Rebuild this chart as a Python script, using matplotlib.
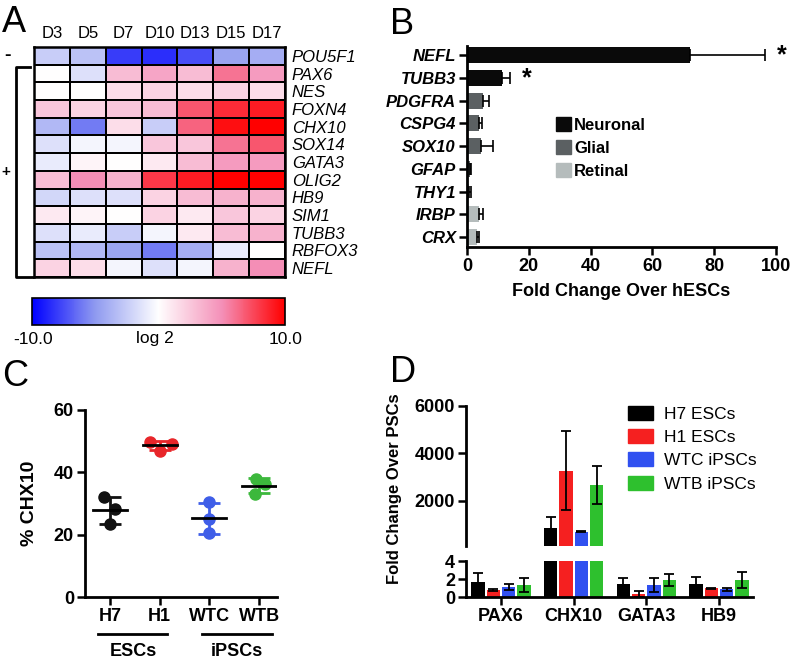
import numpy as np
import matplotlib
matplotlib.use("Agg")
from matplotlib import pyplot as plt
from matplotlib.colors import LinearSegmentedColormap
from matplotlib.patches import Patch
from matplotlib.cm import ScalarMappable
from matplotlib.colors import Normalize

plt.rcParams['font.family'] = ['Liberation Sans', 'DejaVu Sans']

# ---- panel A data: log2 expression per day
days = ['D3', 'D5', 'D7', 'D10', 'D13', 'D15', 'D17']
genes_a = ['POU5F1', 'PAX6', 'NES', 'FOXN4', 'CHX10', 'SOX14', 'GATA3',
           'OLIG2', 'HB9', 'SIM1', 'TUBB3', 'RBFOX3', 'NEFL']
heat = [
    [-2.5, -3.0, -8.0, -8.5, -7.5, -4.5, -4.0],
    [0.0, -1.5, 3.0, 4.0, 3.0, 6.0, 4.5],
    [0.0, 0.0, 1.5, 2.0, 1.5, 2.0, 1.5],
    [2.5, 2.0, 2.5, 3.0, 7.0, 8.5, 9.0],
    [-3.5, -6.0, 1.5, -2.5, 6.5, 9.5, 10.0],
    [-1.5, -0.5, -0.5, 2.5, 2.5, 6.0, 7.0],
    [-1.0, 0.5, 0.0, 1.0, 3.0, 4.5, 4.5],
    [3.0, 5.0, 3.5, 8.0, 9.0, 10.0, 10.0],
    [-2.0, -1.5, -1.5, 2.0, 3.0, 3.5, 3.5],
    [1.0, 0.5, 0.0, 2.0, 1.0, 2.5, 2.0],
    [-1.5, -1.0, -2.5, -0.5, 1.0, 3.0, 3.5],
    [-3.0, -3.5, -4.5, -6.0, -4.0, -1.0, 0.0],
    [2.0, 1.5, -0.5, -1.5, -0.5, 3.5, 5.0],
]

# ---- panel B data
genes_b = ['NEFL', 'TUBB3', 'PDGFRA', 'CSPG4', 'SOX10', 'GFAP', 'THY1', 'IRBP', 'CRX']
fold_b = [72.2, 11.2, 5.1, 4.0, 4.5, 1.0, 0.5, 3.9, 3.1]
err_b = [24.2, 2.7, 1.9, 0.9, 4.0, 0.3, 0.7, 1.2, 0.8]
group_b = ['Neuronal', 'Neuronal', 'Glial', 'Glial', 'Glial',
           'Glial', 'Retinal', 'Retinal', 'Retinal']
group_colors = {'Neuronal': '#0a0a0a', 'Glial': '#5b6062', 'Retinal': '#b5bcbc'}

# ---- panel C data: % CHX10, three replicates per line
lines_c = ['H7', 'H1', 'WTC', 'WTB']
pct_c = [[32.0, 28.2, 23.4],
         [49.8, 49.2, 47.0],
         [30.4, 25.1, 20.4],
         [37.8, 36.2, 33.2]]
jitter = [[-0.12, 0.1, 0.0],
          [-0.2, 0.24, 0.0],
          [0.0, 0.0, 0.0],
          [-0.06, 0.12, -0.08]]
colors_c = ['#111111', '#e8262a', '#3f5ee8', '#3cb83c']

# ---- panel D data
genes_d = ['PAX6', 'CHX10', 'GATA3', 'HB9']
series_d = ['H7 ESCs', 'H1 ESCs', 'WTC iPSCs', 'WTB iPSCs']
fold_d = [[1.73, 876, 1.48, 1.5],
          [0.8, 3276, 0.37, 1.0],
          [1.15, 707, 1.37, 0.87],
          [1.37, 2674, 1.92, 1.9]]
err_d = [[0.95, 440, 0.65, 0.7],
         [0.1, 1650, 0.3, 0.06],
         [0.3, 20, 0.75, 0.2],
         [0.8, 800, 0.65, 0.9]]
colors_d = ['#000000', '#f52020', '#3050f0', '#2ec02e']

W, H = 793, 663


def fx(px):
    return px / W


def fy(py):
    return 1 - py / H


def box(x0, y0, x1, y1):
    return [fx(x0), fy(y1), (x1 - x0) / W, (y1 - y0) / H]


fig = plt.figure(figsize=(W / 100, H / 100), dpi=100)

# ================= A =================
cmap = LinearSegmentedColormap.from_list(
    'bwr2', [(0, '#0000ff'), (0.25, '#8f9af0'), (0.5, '#ffffff'),
             (0.75, '#f490b8'), (1.0, '#ff0000')])
axa = fig.add_axes(box(34, 47, 285, 277))
axa.pcolormesh(np.array(heat), cmap=cmap, vmin=-10, vmax=10,
               edgecolors='black', linewidth=1.2)
axa.set_ylim(len(genes_a), 0)
axa.set_xlim(0, len(days))
axa.set_xticks(np.arange(len(days)) + 0.5)
axa.set_xticklabels(days, fontsize=12)
axa.xaxis.tick_top()
axa.yaxis.tick_right()
axa.set_yticks(np.arange(len(genes_a)) + 0.5)
axa.set_yticklabels(genes_a, fontsize=12, fontstyle='italic')
axa.tick_params(length=0, pad=4)
axa.tick_params(axis='y', pad=5)
for s in axa.spines.values():
    s.set_linewidth(1.8)

cax = fig.add_axes(box(32, 298, 285, 325))
cb = fig.colorbar(ScalarMappable(norm=Normalize(-10, 10), cmap=cmap),
                  cax=cax, orientation='horizontal')
cb.set_ticks([])
cb.outline.set_linewidth(1.2)
fig.text(fx(33), fy(339), '-10.0', fontsize=12.5, ha='center', va='center')
fig.text(fx(155), fy(339), 'log 2', fontsize=12.5, ha='center', va='center')
fig.text(fx(286), fy(339), '10.0', fontsize=12.5, ha='center', va='center')

fig.text(fx(14), fy(23), 'A', fontsize=26, ha='center', va='center')
fig.text(fx(7), fy(55), '-', fontsize=14, fontweight='bold', ha='center', va='center')
fig.text(fx(6), fy(172), '+', fontsize=11, fontweight='bold', ha='center', va='center')
fig.add_artist(plt.Line2D([fx(30), fx(16), fx(16), fx(32)],
                          [fy(67), fy(67), fy(277), fy(277)],
                          color='black', linewidth=2))

# ================= B =================
axb = fig.add_axes(box(467, 46, 776, 247))
ypos = np.arange(len(genes_b))[::-1]
bcols = [group_colors[g] for g in group_b]
axb.barh(ypos, fold_b, height=0.7, color=bcols)
axb.errorbar(fold_b, ypos, xerr=[np.zeros(len(err_b)), err_b], fmt='none',
             ecolor='black', elinewidth=1.2, capsize=4, capthick=1.2)
axb.set_xlim(0, 100)
axb.set_ylim(-0.44, 8.4)
axb.set_xticks(range(0, 101, 20))
axb.set_yticks(ypos)
axb.set_yticklabels(genes_b, fontsize=12, fontweight='bold', fontstyle='italic')
for lab in axb.get_xticklabels():
    lab.set_fontweight('bold')
    lab.set_fontsize(13)
axb.set_xlabel('Fold Change Over hESCs', fontsize=13, fontweight='bold', labelpad=6)
axb.spines['top'].set_visible(False)
axb.spines['right'].set_visible(False)
for s in ['left', 'bottom']:
    axb.spines[s].set_linewidth(2)
axb.tick_params(axis='both', direction='out', length=6, width=1.8, pad=2)
axb.text(fold_b[0] + err_b[0] + 5.5, ypos[0], '*', fontsize=18, fontweight='bold',
         ha='center', va='center')
axb.text(fold_b[1] + err_b[1] + 5.5, ypos[1], '*', fontsize=18, fontweight='bold',
         ha='center', va='center')
handles_b = [Patch(color=group_colors[k]) for k in ['Neuronal', 'Glial', 'Retinal']]
leg = axb.legend(handles_b, ['Neuronal', 'Glial', 'Retinal'], frameon=False,
                 loc='upper left', bbox_to_anchor=(fx(556), fy(117)),
                 bbox_transform=fig.transFigure, borderpad=0, borderaxespad=0,
                 handlelength=0.9, handleheight=0.9, handletextpad=0.2,
                 labelspacing=0.45, prop={'weight': 'bold', 'size': 12})
fig.text(fx(402), fy(25), 'B', fontsize=26, ha='center', va='center')

# ================= C =================
axc = fig.add_axes(box(85, 410, 277, 597))
for i, pts in enumerate(pct_c):
    xs = [i + j for j in jitter[i]]
    axc.plot(xs, pts, 'o', color=colors_c[i], markersize=8, zorder=2)
    m = np.mean(pts)
    sd = np.std(pts, ddof=1)
    axc.errorbar(i, m, yerr=sd, fmt='none', ecolor=colors_c[i], elinewidth=2,
                 capsize=8, capthick=2, zorder=3)
    axc.plot([i - 0.34, i + 0.34], [m, m], color='black', linewidth=2, zorder=4)
axc.set_xlim(-0.5, 3.36)
axc.set_ylim(0, 60)
axc.set_yticks([0, 20, 40, 60])
axc.set_xticks(range(4))
axc.set_xticklabels(lines_c)
for lab in axc.get_xticklabels() + axc.get_yticklabels():
    lab.set_fontweight('bold')
    lab.set_fontsize(13)
axc.set_ylabel('% CHX10', fontsize=14, fontweight='bold', labelpad=11)
axc.spines['top'].set_visible(False)
axc.spines['right'].set_visible(False)
for s in ['left', 'bottom']:
    axc.spines[s].set_linewidth(2)
axc.tick_params(axis='both', direction='out', length=6, width=1.8, pad=2)
fig.add_artist(plt.Line2D([fx(98), fx(167)], [fy(634), fy(634)], color='black', linewidth=2))
fig.add_artist(plt.Line2D([fx(202), fx(272)], [fy(634), fy(634)], color='black', linewidth=2))
fig.text(fx(133), fy(651), 'ESCs', fontsize=13, fontweight='bold', ha='center', va='center')
fig.text(fx(237), fy(651), 'iPSCs', fontsize=13, fontweight='bold', ha='center', va='center')
fig.text(fx(15), fy(376), 'C', fontsize=26, ha='center', va='center')

# ================= D =================
axu = fig.add_axes(box(466, 406, 753, 546))
axl = fig.add_axes(box(466, 561, 753, 597.3))
xg = np.arange(len(genes_d))
pitch = 0.211
for k in range(len(series_d)):
    xs = xg + (k - 1.5) * pitch
    for ax in (axu, axl):
        ax.bar(xs, fold_d[k], width=0.184, color=colors_d[k], label=series_d[k])
        ax.errorbar(xs, fold_d[k], yerr=err_d[k], fmt='none', ecolor='black',
                    elinewidth=1.3, capsize=3.5, capthick=1.3)
for ax in (axu, axl):
    ax.set_xlim(-0.48, 3.47)
    ax.spines['top'].set_visible(False)
    ax.spines['right'].set_visible(False)
    ax.spines['left'].set_linewidth(2)
    ax.tick_params(axis='both', direction='out', length=6, width=1.8, pad=2)
axu.set_ylim(100, 6000)
axu.set_yticks([2000, 4000, 6000])
axu.spines['bottom'].set_visible(False)
axu.set_xticks([])
axl.set_ylim(0, 4)
axl.set_yticks([0, 2, 4])
axl.spines['bottom'].set_linewidth(2)
axl.set_xticks(xg)
axl.set_xticklabels(genes_d)
for lab in (axu.get_yticklabels() + axl.get_yticklabels() + axl.get_xticklabels()):
    lab.set_fontweight('bold')
    lab.set_fontsize(13)
handles_d = [Patch(color=c) for c in colors_d]
axu.legend(handles_d, series_d, frameon=False, loc='upper left',
           bbox_to_anchor=(fx(628), fy(406)), bbox_transform=fig.transFigure,
           borderpad=0, borderaxespad=0, handlelength=1.45, handleheight=0.85,
           handletextpad=0.65, labelspacing=0.42, prop={'size': 12.5})
fig.text(fx(395), fy(489), 'Fold Change Over PSCs', fontsize=12, fontweight='bold',
         rotation=90, ha='center', va='center')
fig.text(fx(403), fy(373), 'D', fontsize=26, ha='center', va='center')

fig.savefig('out.png', dpi=100)
